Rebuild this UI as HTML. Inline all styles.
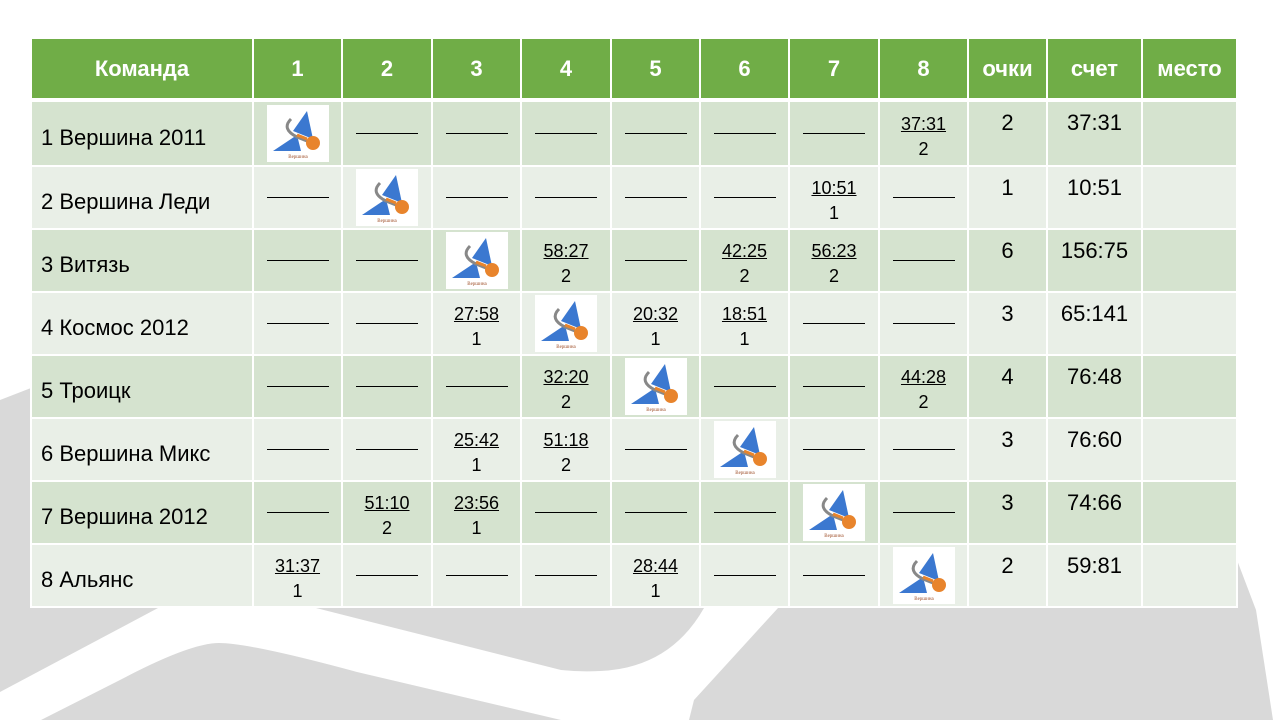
<!DOCTYPE html>
<html><head><meta charset="utf-8">
<style>
body{margin:0;width:1280px;height:720px;background:#fff;position:relative;overflow:hidden;font-family:"Liberation Sans",sans-serif;}
#bg{position:absolute;left:0;top:0}
#tbl{position:absolute;left:30px;top:37px;border-collapse:collapse;table-layout:fixed;}
#tbl td,#tbl th{border:2px solid #fff;padding:0;text-align:center;color:#000;}
#tbl th{background:#70ad47;color:#fff;font-size:22px;font-weight:bold;height:59px;border-bottom:4px solid #fff;}
tr.odd td{background:#d5e3cf}
tr.even td{background:#e9efe7}
td.team{text-align:left!important;padding-left:9px!important;font-size:22px;padding-top:8px!important}
td.num{vertical-align:top;font-size:22px;padding-top:8px!important}
.dash{display:inline-block;width:62px;border-bottom:1.5px solid #000;height:0;vertical-align:middle}
.sc{font-size:18px;line-height:25px;margin-top:6px}
.logo{display:inline-block;vertical-align:middle}
</style></head><body>
<svg id="bg" width="1280" height="720">
<polygon points="0,400 31,388 31,608 158,608 0,692" fill="#d9d9d9"/>
<path d="M41,720 L120,680 Q190,643 219,643 Q250,643 357,672 L561,720 Z" fill="#d9d9d9"/>
<path d="M316,608 L704,608 Q670,668 600,671 Q580,672 561,670 Z" fill="#d9d9d9"/>
<polygon points="778,608 1237,608 1237,560 1256,610 1273,720 689,720 694,700" fill="#d9d9d9"/>
</svg>
<table id="tbl">
<colgroup>
<col style="width:222px"><col style="width:89px"><col style="width:90px"><col style="width:89px"><col style="width:90px"><col style="width:89px"><col style="width:89px"><col style="width:90px"><col style="width:89px"><col style="width:79px"><col style="width:95px"><col style="width:95px">
</colgroup>
<thead><tr id="hdr"></tr></thead>
<tbody id="body"></tbody>
</table>
<script>
const headers=["Команда","1","2","3","4","5","6","7","8","очки","счет","место"];
const teams=["1 Вершина 2011","2 Вершина Леди","3 Витязь","4 Космос 2012","5 Троицк","6 Вершина Микс","7 Вершина 2012","8 Альянс"];
const scores=[
[null,"","","","","","","37:31"],
["",null,"","","","","10:51",""],
["","",null,"58:27","","42:25","56:23",""],
["","","27:58",null,"20:32","18:51","",""],
["","","","32:20",null,"","","44:28"],
["","","25:42","51:18","",null,"",""],
["","51:10","23:56","","","",null,""],
["31:37","","","","28:44","","",null]];
const gamePts=[
[null,"","","","","","","2"],
["",null,"","","","","1",""],
["","",null,"2","","2","2",""],
["","","1",null,"1","1","",""],
["","","","2",null,"","","2"],
["","","1","2","",null,"",""],
["","2","1","","","",null,""],
["1","","","","1","","",null]];
const points=["2","1","6","3","4","3","3","2"];
const totals=["37:31","10:51","156:75","65:141","76:48","76:60","74:66","59:81"];
const logo='<svg class="logo" width="62" height="57" viewBox="0 0 62 57"><rect width="62" height="57" fill="#fff"/><polygon points="6,46 30,30 34,46" fill="#3b78d0"/><polygon points="26,26 40,6 46,34" fill="#3b78d0"/><path d="M24,14 Q14,24 30,32 L40,36" stroke="#888" stroke-width="3" fill="none"/><circle cx="46" cy="38" r="7" fill="#e8842c"/><path d="M30,30 L40,34" stroke="#e8842c" stroke-width="3"/><text x="31" y="53" font-size="5" fill="#a0522d" text-anchor="middle" font-family="Liberation Serif,serif">Вершина</text></svg>';
const hdr=document.getElementById('hdr');
headers.forEach((h,i)=>{const th=document.createElement('th');th.textContent=h;


hdr.appendChild(th);});
const body=document.getElementById('body');
teams.forEach((t,r)=>{
 const tr=document.createElement('tr');tr.className=r%2?'even':'odd';tr.style.height=(r===0?'66px':'63px');
 
 
 const td=document.createElement('td');td.className='team';td.textContent=t;
 
 
 tr.appendChild(td);
 for(let c=0;c<8;c++){
  const cell=document.createElement('td');
  
  
  const s=scores[r][c];
  if(s===null) cell.innerHTML=logo;
  else if(s==="") cell.innerHTML='<span class="dash"></span>';
  else cell.innerHTML='<div class="sc"><u>'+s+'</u><br>'+gamePts[r][c]+'</div>';
  tr.appendChild(cell);
 }
 const p=document.createElement('td');p.className='num';p.textContent=points[r];
 
 
 tr.appendChild(p);
 const s=document.createElement('td');s.className='num';s.textContent=totals[r];
 
 
 tr.appendChild(s);
 const m=document.createElement('td');m.className='num';
 
 
 tr.appendChild(m);
 body.appendChild(tr);
});
</script>
</body></html>
